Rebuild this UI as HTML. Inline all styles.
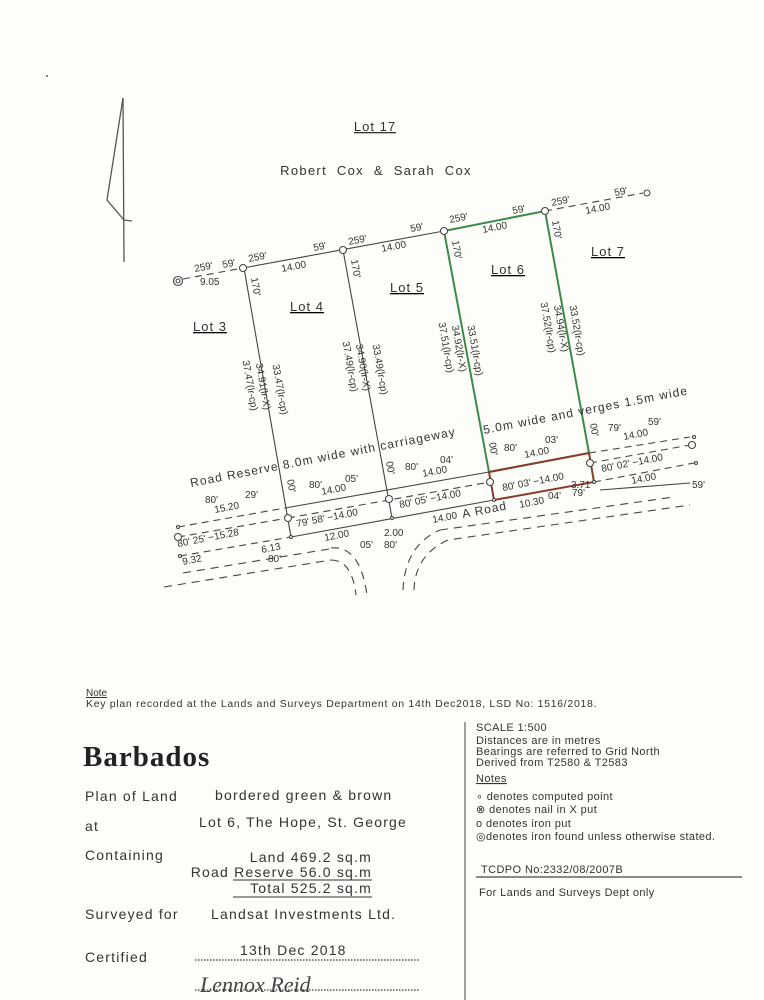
<!DOCTYPE html>
<html><head><meta charset="utf-8"><style>
html,body{margin:0;padding:0;background:#fdfdf9;}
svg{display:block}
text{font-family:"Liberation Sans",sans-serif;fill:#333;}
.s{font-size:10px}
.m{font-size:12px}
.l{font-size:13px}
.f{font-size:14px;letter-spacing:1.2px}
</style></head><body>
<svg width="764" height="1000" viewBox="0 0 764 1000" xmlns="http://www.w3.org/2000/svg">
<rect width="764" height="1000" fill="#fdfdf9"/>
<circle cx="47" cy="76" r="1" fill="#555"/>
<g stroke="#555" stroke-width="1.3" fill="none">
<line x1="123" y1="98" x2="124" y2="262"/>
<polyline points="123,98 107,200 124,220 132,221"/>
</g>
<text class="l" x="375" y="131" text-anchor="middle" text-decoration="underline" style="letter-spacing:1px">Lot 17</text>
<text class="l" x="376" y="175" text-anchor="middle" style="word-spacing:5px;letter-spacing:1.3px">Robert Cox  &amp;  Sarah Cox</text>

<g stroke="#444" stroke-width="1.1" fill="none">
<line x1="243" y1="268" x2="444" y2="231"/>
<line x1="183" y1="279" x2="243" y2="268" stroke-dasharray="7,5"/>
<line x1="545" y1="211" x2="643" y2="193" stroke-dasharray="7,5"/>
<line x1="244" y1="268" x2="291" y2="537"/>
<line x1="343" y1="250" x2="392" y2="518"/>
<line x1="285" y1="508" x2="489" y2="472"/>
<line x1="178" y1="527" x2="285" y2="508" stroke-dasharray="7,5"/>
<line x1="589" y1="453" x2="690" y2="437" stroke-dasharray="7,5"/>
<line x1="178" y1="537" x2="288" y2="518" stroke-dasharray="7,5"/>
<line x1="288" y1="518" x2="490" y2="482" stroke-dasharray="7,5"/>
<line x1="590" y1="463" x2="690" y2="445" stroke-dasharray="7,5"/>
<line x1="180" y1="556" x2="291" y2="537" stroke-dasharray="7,5"/>
<line x1="291" y1="537" x2="494" y2="500"/>
<line x1="594" y1="482" x2="694" y2="463" stroke-dasharray="7,5"/>
<line x1="600" y1="490" x2="690" y2="483"/>
<line x1="183" y1="573" x2="335" y2="548" stroke-dasharray="8,6"/>
<line x1="440" y1="530" x2="674" y2="497" stroke-dasharray="8,6"/>
<line x1="164" y1="587" x2="331" y2="560" stroke-dasharray="8,6"/>
<path d="M331,548 Q360,545 367,595" stroke-dasharray="8,6"/>
<path d="M331,560 Q352,560 356,595" stroke-dasharray="8,6"/>
<path d="M403,590 Q405,545 440,530" stroke-dasharray="8,6"/>
<path d="M414,590 Q415,555 448,540 L690,505" stroke-dasharray="8,6"/>
</g>
<polygon points="444,231 545,211 589,453 489,472" fill="none" stroke="#3c8a4a" stroke-width="2"/>
<polygon points="489,472 589,453 594,482 494,500" fill="none" stroke="#8a3a2a" stroke-width="2"/>
<g fill="#fff" stroke="#444" stroke-width="1.1">
<circle cx="243" cy="268" r="3.5"/><circle cx="343" cy="250" r="3.5"/><circle cx="444" cy="231" r="3.5"/><circle cx="545" cy="211" r="3.5"/><circle cx="647" cy="193" r="3"/>
<circle cx="178" cy="281" r="4.5"/><circle cx="178" cy="281" r="2"/>
<circle cx="288" cy="518" r="3.5"/><circle cx="389" cy="499" r="3.5"/><circle cx="490" cy="482" r="3.5"/><circle cx="590" cy="463" r="3.5"/><circle cx="692" cy="445" r="3.5"/><circle cx="178" cy="537" r="3.5"/>
<circle cx="178" cy="527" r="1.5"/><circle cx="694" cy="437" r="1.5"/><circle cx="180" cy="556" r="1.5"/><circle cx="696" cy="463" r="1.5"/>
<circle cx="291" cy="537" r="1.5"/><circle cx="392" cy="518" r="1.5"/><circle cx="494" cy="500" r="1.5"/><circle cx="594" cy="482" r="1.5"/>
</g>

<g class="l" text-decoration="underline" text-anchor="middle" style="letter-spacing:1px">
<text x="210" y="331">Lot 3</text><text x="307" y="311">Lot 4</text><text x="407" y="292">Lot 5</text><text x="508" y="274">Lot 6</text><text x="608" y="256">Lot 7</text>
</g>

<g class="s">
<text x="195" y="272" transform="rotate(-11 195 272)">259'</text>
<text x="223" y="268" transform="rotate(-11 223 268)">59'</text>
<text x="200" y="285">9.05</text>
<text x="249" y="262" transform="rotate(-11 249 262)">259'</text>
<text x="282" y="272" transform="rotate(-11 282 272)">14.00</text>
<text x="314" y="251" transform="rotate(-11 314 251)">59'</text>
<text x="349" y="245" transform="rotate(-11 349 245)">259'</text>
<text x="382" y="252" transform="rotate(-11 382 252)">14.00</text>
<text x="411" y="232" transform="rotate(-11 411 232)">59'</text>
<text x="450" y="223" transform="rotate(-11 450 223)">259'</text>
<text x="483" y="233" transform="rotate(-11 483 233)">14.00</text>
<text x="513" y="214" transform="rotate(-11 513 214)">59'</text>
<text x="552" y="206" transform="rotate(-11 552 206)">259'</text>
<text x="586" y="214" transform="rotate(-11 586 214)">14.00</text>
<text x="615" y="196" transform="rotate(-11 615 196)">59'</text>
</g>
<g class="s">
<text x="251" y="278" transform="rotate(80 251 278)">170'</text>
<text x="351" y="260" transform="rotate(80 351 260)">170'</text>
<text x="452" y="241" transform="rotate(80 452 241)">170'</text>
<text x="552" y="221" transform="rotate(80 552 221)">170'</text>
</g>
<g class="s" text-anchor="middle">
<text transform="translate(277,390) rotate(80)">33.47(lr-cp)</text>
<text transform="translate(260,387) rotate(80)">34.91(lr-X)</text>
<text transform="translate(247,386) rotate(80)">37.47(lr-cp)</text>
<text transform="translate(377,370) rotate(80)">33.49(lr-cp)</text>
<text transform="translate(360,368) rotate(80)">34.90(lr-X)</text>
<text transform="translate(347,367) rotate(80)">37.49(lr-cp)</text>
<text transform="translate(472,351) rotate(80)">33.51(lr-cp)</text>
<text transform="translate(456,349) rotate(80)">34.92(lr-X)</text>
<text transform="translate(443,348) rotate(80)">37.51(lr-cp)</text>
<text transform="translate(574,331) rotate(80)">33.52(lr-cp)</text>
<text transform="translate(558,329) rotate(80)">34.94(lr-X)</text>
<text transform="translate(545,328) rotate(80)">37.52(lr-cp)</text>
</g>
<text class="m" x="191" y="487" transform="rotate(-11 191 487)" style="letter-spacing:1.1px">Road Reserve 8.0m wide with carriageway</text>
<text class="m" x="484" y="434" transform="rotate(-11 484 434)" style="letter-spacing:1.1px">5.0m wide and verges 1.5m wide</text>
<g class="s">
<text transform="translate(287,480) rotate(80)">00'</text>
<text transform="translate(386,462) rotate(80)">00'</text>
<text transform="translate(489,443) rotate(80)">00'</text>
<text transform="translate(590,424) rotate(80)">00'</text>
<text x="309" y="488">80'</text><text x="345" y="482">05'</text><text x="322" y="495" transform="rotate(-11 322 495)">14.00</text>
<text x="405" y="470">80'</text><text x="440" y="463">04'</text><text x="423" y="477" transform="rotate(-11 423 477)">14.00</text>
<text x="504" y="451">80'</text><text x="545" y="443">03'</text><text x="525" y="458" transform="rotate(-11 525 458)">14.00</text>
<text x="608" y="431">79'</text><text x="648" y="425">59'</text><text x="624" y="440" transform="rotate(-11 624 440)">14.00</text>
<text x="205" y="503">80'</text><text x="245" y="498">29'</text><text x="215" y="513" transform="rotate(-11 215 513)">15.20</text>
<text x="297" y="527" transform="rotate(-11 297 527)">79'  58'  −14.00</text>
<text x="400" y="508" transform="rotate(-11 400 508)">80'  05'  −14.00</text>
<text x="503" y="491" transform="rotate(-11 503 491)">80'  03'  −14.00</text>
<text x="602" y="472" transform="rotate(-11 602 472)">80'  02'  −14.00</text>
<text x="632" y="484" transform="rotate(-11 632 484)">14.00</text>
<text x="178" y="547" transform="rotate(-11 178 547)">80'  25'  −15.28</text>
<text x="183" y="565" transform="rotate(-11 183 565)">9.32</text>
<text x="262" y="553" transform="rotate(-11 262 553)">6.13</text>
<text x="268" y="562">80'</text>
<text x="325" y="541" transform="rotate(-11 325 541)">12.00</text>
<text x="360" y="548">05'</text><text x="384" y="548">80'</text><text x="384" y="536">2.00</text>
<text x="433" y="523" transform="rotate(-11 433 523)">14.00</text>
<text class="m" x="463" y="518" transform="rotate(-11 463 518)" style="letter-spacing:1px">A Road</text>
<text x="520" y="508" transform="rotate(-11 520 508)">10.30</text>
<text x="548" y="499">04'</text><text x="572" y="496">79'</text><text x="571" y="488">3.71</text>
<text x="692" y="488">59'</text>
</g>

<text x="86" y="696" style="font-size:10px" text-decoration="underline">Note</text>
<text x="86" y="707" style="font-size:10.5px;letter-spacing:0.7px">Key plan recorded at the Lands and Surveys Department on 14th Dec2018, LSD No: 1516/2018.</text>
<line x1="465" y1="722" x2="465" y2="1000" stroke="#444" stroke-width="1"/>
<text x="83" y="766" style="font-family:'Liberation Serif',serif;font-size:29px;font-weight:bold;letter-spacing:1px;fill:#222">Barbados</text>
<g class="f">
<text x="85" y="801">Plan of Land</text>
<text x="215" y="800">bordered green &amp; brown</text>
<text x="85" y="831">at</text>
<text x="199" y="827">Lot 6, The Hope, St. George</text>
<text x="85" y="860">Containing</text>
<text x="372" y="862" text-anchor="end">Land 469.2 sq.m</text>
<text x="372" y="877" text-anchor="end">Road Reserve  56.0 sq.m</text>
<text x="372" y="893" text-anchor="end">Total 525.2 sq.m</text>
<text x="85" y="919">Surveyed for</text>
<text x="211" y="919">Landsat Investments Ltd.</text>
<text x="85" y="962">Certified</text>
<text x="240" y="955">13th Dec 2018</text>
</g>
<line x1="233" y1="880" x2="372" y2="880" stroke="#333" stroke-width="1"/>
<line x1="233" y1="897" x2="372" y2="897" stroke="#333" stroke-width="1"/>
<line x1="195" y1="960" x2="420" y2="960" stroke="#333" stroke-width="1.3" stroke-dasharray="1.5,1.5"/>
<line x1="195" y1="990" x2="420" y2="990" stroke="#333" stroke-width="1.3" stroke-dasharray="1.5,1.5"/>
<text x="200" y="992" style="font-family:'Liberation Serif',serif;font-style:italic;font-size:22px;fill:#444">Lennox Reid</text>
<g style="font-size:11px;letter-spacing:0.4px">
<text x="476" y="731">SCALE  1:500</text>
<text x="476" y="744">Distances are in metres</text>
<text x="476" y="755">Bearings are referred to Grid North</text>
<text x="476" y="766">Derived from T2580 &amp; T2583</text>
<text x="476" y="782" text-decoration="underline">Notes</text>
<text x="476" y="800">∘ denotes computed point</text>
<text x="476" y="813">⊗ denotes nail in X put</text>
<text x="476" y="827">o denotes iron put</text>
<text x="476" y="840">◎denotes iron found unless otherwise stated.</text>
<text x="481" y="873">TCDPO No:2332/08/2007B</text>
<text x="479" y="896">For Lands and Surveys Dept only</text>
</g>
<line x1="476" y1="877" x2="742" y2="877" stroke="#444" stroke-width="1.2"/>
</svg>
</body></html>
